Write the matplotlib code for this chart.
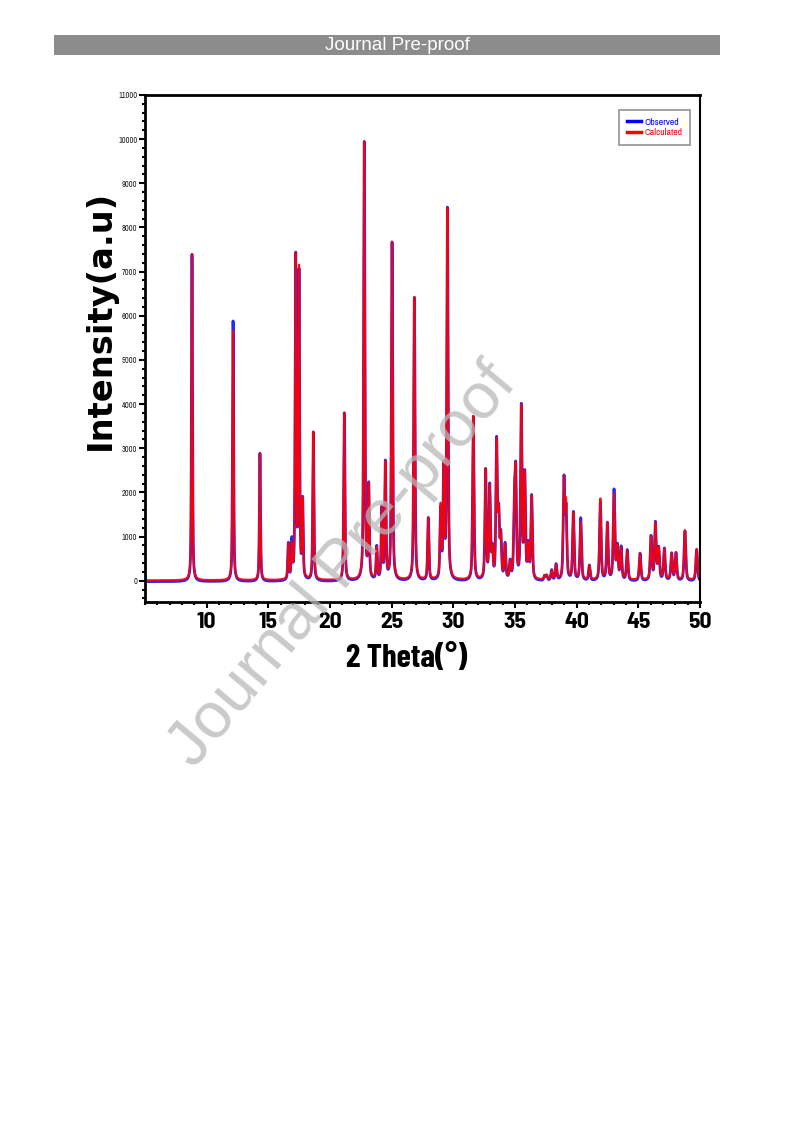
import numpy as np
import matplotlib
matplotlib.use("Agg")
import matplotlib.pyplot as plt
from matplotlib.ticker import MultipleLocator, FixedLocator
from matplotlib.patches import Rectangle

# ---- data: peak list (2theta, calculated height, observed height)
peak_pos = [8.81, 12.14, 14.32, 16.62, 16.90, 17.22, 17.49, 17.78, 18.65, 21.16,
            22.78, 23.14, 23.79, 24.20, 24.49, 25.03, 26.84, 27.97, 28.97, 29.22,
            29.52, 31.62, 32.62, 32.95, 33.16, 33.51, 33.68, 33.85, 34.19, 34.60,
            34.95, 35.06, 35.51, 35.79, 36.08, 36.35, 37.40, 37.57, 37.97, 38.33,
            38.97, 39.14, 39.73, 40.33, 41.03, 41.92, 42.49, 43.03, 43.30, 43.60,
            44.10, 45.14, 46.03, 46.38, 46.65, 47.11, 47.70, 48.05, 48.78, 49.73]
calc_height = [7400, 5650, 2880, 780, 700, 7250, 6950, 1700, 3340, 3790,
               9900, 2050, 700, 1600, 2600, 7640, 6400, 1400, 1600, 2450,
               8340, 3700, 2450, 2050, 600, 3050, 1350, 900, 750, 350,
               1550, 2200, 3850, 2300, 700, 1850, 90, 90, 200, 330,
               2200, 1650, 1500, 1300, 320, 1830, 1260, 1920, 700, 700,
               650, 600, 950, 1250, 680, 690, 580, 600, 1120, 700]
obs_height = [7420, 5900, 2900, 820, 850, 7280, 6900, 1750, 3370, 3800,
              9920, 2100, 750, 1600, 2650, 7660, 6420, 1420, 1550, 2450,
              8400, 3720, 2480, 2100, 650, 3100, 1400, 950, 800, 400,
              1550, 2250, 3900, 2350, 750, 1900, 110, 120, 240, 370,
              2250, 1550, 1550, 1420, 350, 1780, 1300, 2040, 750, 750,
              700, 630, 1000, 1300, 720, 730, 620, 630, 1140, 720]
calc_background = 10
obs_background = -20

two_theta_min, two_theta_max = 5.0, 50.0
y_ticks = list(range(0, 11001, 1000))
x_ticks = [10, 15, 20, 25, 30, 35, 40, 45, 50]


def profile(x, pos, hts, bg):
    y = np.full_like(x, float(bg))
    for p, h in zip(pos, hts):
        w = 0.045 + 0.0008 * (p - 5.0)
        lor = 1.0 / (1.0 + ((x - p) / w) ** 2)
        gau = np.exp(-np.log(2) * ((x - p) / w) ** 2)
        y += h * (0.55 * lor + 0.45 * gau)
    return y


x = np.arange(two_theta_min, two_theta_max + 0.001, 0.004)
y_calc = profile(x, peak_pos, calc_height, calc_background)
y_obs = profile(x, peak_pos, obs_height, obs_background)

narrow = "Barlow Semi Condensed"

fig = plt.figure(figsize=(7.93, 11.23), dpi=100)

# header bar
fig.patches.append(Rectangle((54 / 793, 1 - 55 / 1123), (720 - 54) / 793, 20 / 1123,
                             transform=fig.transFigure, facecolor="#8c8c8c",
                             edgecolor="none", zorder=0))
fig.text(397 / 793, 1 - 45 / 1123, "Journal Pre-proof", color="white",
         fontsize=13.5, ha="center", va="center", family="Liberation Sans")

ax = fig.add_axes([145 / 793, 1 - 602 / 1123, 555 / 793, 507 / 1123])
ax.plot(x, y_obs, color="#0000ff", lw=2.0, label="Observed", alpha=0.85,
        solid_joinstyle="round")
ax.plot(x, y_calc, color="#ff0000", lw=1.5, label="Calculated", alpha=0.92,
        solid_joinstyle="round")

ax.set_xlim(two_theta_min, two_theta_max)
ax.set_ylim(-480, 11000)
ax.xaxis.set_major_locator(FixedLocator(x_ticks))
ax.xaxis.set_minor_locator(MultipleLocator(1))
ax.yaxis.set_major_locator(FixedLocator(y_ticks))
ax.yaxis.set_minor_locator(MultipleLocator(200))

for s in ax.spines.values():
    s.set_linewidth(2.0)
    s.set_color("black")
ax.spines["right"].set_linewidth(1.5)

ax.tick_params(axis="both", which="major", direction="out", length=4, width=1.5,
               color="black")
ax.tick_params(axis="both", which="minor", direction="out", length=2.5, width=1.5)
ax.tick_params(axis="y", which="major", labelsize=6, pad=1.5)
ax.tick_params(axis="x", which="major", labelsize=17, pad=3)
for lab in ax.get_yticklabels():
    lab.set_family("Archivo Narrow")
    lab.set_color("#222222")
for lab in ax.get_xticklabels():
    lab.set_family(narrow)
    lab.set_fontweight("bold")

fig.text(407 / 793, 1 - 659 / 1123, "2 Theta(°)", fontsize=23.5, fontweight="bold",
         family="Barlow Condensed", ha="center", va="center")
fig.text(100 / 793, 1 - 320 / 1123, "Intensity(a.u)", rotation=90, fontsize=24.3,
         fontweight="bold", family="DejaVu Sans", ha="center", va="center")

leg = ax.legend(loc="upper right", frameon=True, fancybox=False,
                handlelength=1.5, handletextpad=0.3, borderpad=0.8,
                borderaxespad=0, labelspacing=0.15,
                prop={"family": "Archivo Narrow", "size": 7})
leg.get_frame().set_edgecolor("#777777")
leg.get_frame().set_linewidth(1.2)
for lh in leg.get_lines():
    lh.set_linewidth(2.5)
    lh.set_alpha(1)
for t, c in zip(leg.get_texts(), ["#0000ff", "#ff0000"]):
    t.set_color(c)
leg.set_bbox_to_anchor((690 / 793, 1 - 110 / 1123), transform=fig.transFigure)

# watermark
fig.text(343 / 793, 1 - 566 / 1123, "Journal Pre-proof", rotation=50, fontsize=47,
         color="#b8b8b8", alpha=0.75, ha="center", va="center",
         rotation_mode="anchor", family="Liberation Sans", zorder=10)

fig.savefig("out.png", dpi=100)
